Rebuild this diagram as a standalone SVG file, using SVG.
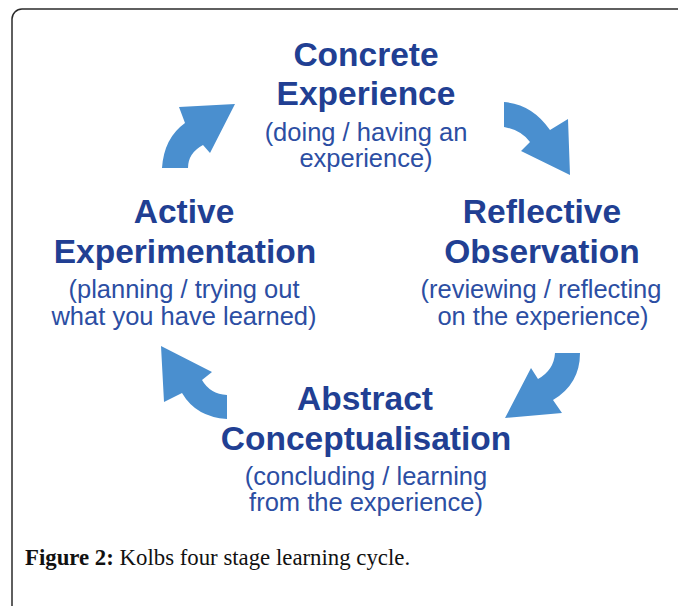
<svg xmlns="http://www.w3.org/2000/svg" width="678" height="606" viewBox="0 0 678 606">
  <style>
    .frame { fill: #ffffff; stroke: #2b2b2b; stroke-width: 1.5; }
    .arrow { fill: #4a8fcf; }
    .title { font-family: "Liberation Sans", Arial, sans-serif; font-weight: bold; font-size: 33.5px; fill: #213f93; text-anchor: middle; }
    .sub { font-family: "Liberation Sans", Arial, sans-serif; font-size: 25.5px; fill: #2c4ea3; text-anchor: middle; }
    .caption { font-family: "Liberation Serif", "Times New Roman", serif; font-size: 22.8px; fill: #111111; }
  </style>

  <rect width="678" height="606" fill="#ffffff"/>
  <!-- figure frame, open to the right and bottom -->
  <rect class="frame" x="12" y="9" width="720" height="700" rx="10" ry="10"/>

  <!-- curved cycle arrows -->
  <g id="connectors">
    <!-- Concrete Experience -> Reflective Observation -->
    <path class="arrow" d="M504,102 Q532,104 550,130 L568,119 L570,175 L521,151 L530,142 Q521,130 504,127 Z"/>
    <!-- Reflective Observation -> Abstract Conceptualisation -->
    <path class="arrow" d="M580,353 Q580,384 553,400 L562,413 L505,418 L531,368 L538,379 Q554,370 555,353 Z"/>
    <!-- Abstract Conceptualisation -> Active Experimentation -->
    <path class="arrow" d="M227,419 L227,395 Q210,394 202,380 L212,372 L161,346 L164,402 L182,393 Q196,417 227,419 Z"/>
    <!-- Active Experimentation -> Concrete Experience -->
    <path class="arrow" d="M162,168 Q164,138 185,123 L179,107 L235,104 L210,153 L203,145 Q188,153 188,168 Z"/>
  </g>

  <g id="concrete-experience">
    <text class="title" x="366" y="66">Concrete</text>
    <text class="title" x="366" y="105">Experience</text>
    <text class="sub" x="366" y="141">(doing / having an</text>
    <text class="sub" x="366" y="167">experience)</text>
  </g>

  <g id="reflective-observation">
    <text class="title" x="542" y="223">Reflective</text>
    <text class="title" x="542" y="263">Observation</text>
    <text class="sub" x="541" y="298">(reviewing / reflecting</text>
    <text class="sub" x="543" y="325">on the experience)</text>
  </g>

  <g id="abstract-conceptualisation">
    <text class="title" x="365" y="410">Abstract</text>
    <text class="title" x="366" y="450">Conceptualisation</text>
    <text class="sub" x="366" y="485">(concluding / learning</text>
    <text class="sub" x="366" y="511">from the experience)</text>
  </g>

  <g id="active-experimentation">
    <text class="title" x="184" y="223">Active</text>
    <text class="title" x="185" y="263">Experimentation</text>
    <text class="sub" x="184" y="298">(planning / trying out</text>
    <text class="sub" x="184" y="325">what you have learned)</text>
  </g>

  <g id="caption">
    <text class="caption" x="25" y="565"><tspan font-weight="bold">Figure 2:</tspan> Kolbs four stage learning cycle.</text>
  </g>
</svg>
